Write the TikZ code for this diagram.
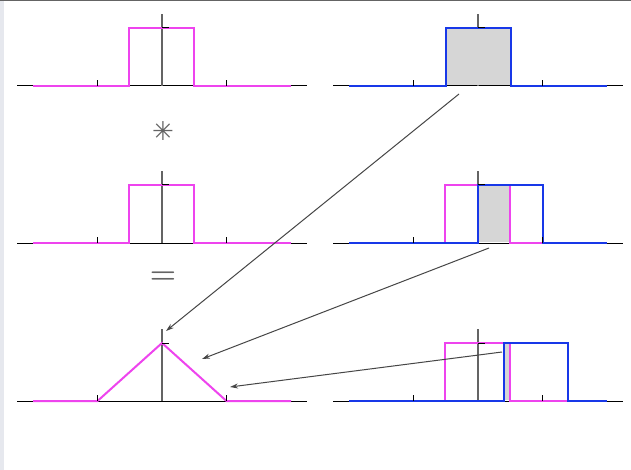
\documentclass[tikz,border=0pt]{standalone}
\usepackage{fontspec}
\newfontfamily\dejavu{DejaVu Sans}
\usetikzlibrary{arrows.meta}
\definecolor{mag}{RGB}{238,68,238}
\definecolor{blu}{RGB}{24,56,232}
\definecolor{greyfill}{RGB}{214,214,214}
\definecolor{arr}{RGB}{70,70,70}
\definecolor{vax}{RGB}{100,100,100}
\definecolor{strip}{RGB}{230,232,238}
\begin{document}
\begin{tikzpicture}[x=1pt,y=-1pt,
  haxis/.style={line width=1pt, black},
  vaxis/.style={line width=1.3pt, vax},
  tickmark/.style={line width=1pt, black},
  magcurve/.style={line width=2pt, mag},
  blucurve/.style={line width=2pt, blu},
  conn/.style={line width=1pt, arr, -{Stealth[length=8pt,width=5pt]}},
  sym/.style={text=vax, inner sep=0pt}]
\useasboundingbox (0,0) rectangle (631,470);
\fill[white] (0,0) rectangle (631,470);
\fill[strip] (0,0) rectangle (4,470);
\fill[vax] (0,0) rectangle (631,1.5);

% ---- left column ----
\begin{scope}[shift={(162,86)}]
  \draw[haxis] (-145,0) -- (145,0);
  \draw[vaxis] (0,0) -- (0,-72);
  \draw[magcurve] (-129,0) -- (-33,0) -- (-33,-58) -- (32,-58) -- (32,0) -- (129,0);
  \draw[tickmark] (-64.5,0) -- (-64.5,-6) (64.5,0) -- (64.5,-6) (0,-58) -- (7,-58);
\end{scope}
\begin{scope}[shift={(162,243)}]
  \draw[haxis] (-145,0) -- (145,0);
  \draw[vaxis] (0,0) -- (0,-72);
  \draw[magcurve] (-129,0) -- (-33,0) -- (-33,-58) -- (32,-58) -- (32,0) -- (129,0);
  \draw[tickmark] (-64.5,0) -- (-64.5,-6) (64.5,0) -- (64.5,-6) (0,-58) -- (7,-58);
\end{scope}
\begin{scope}[shift={(162,401)}]
  \draw[haxis] (-145,0) -- (145,0);
  \draw[vaxis] (0,0) -- (0,-72);
  \draw[magcurve] (-129,0) -- (-64.5,0) -- (0,-58) -- (64.5,0) -- (129,0);
  \draw[tickmark] (-64.5,0) -- (-64.5,-6) (64.5,0) -- (64.5,-6) (0,-58) -- (7,-58);
\end{scope}

% ---- right column ----
\begin{scope}[shift={(478,86)}]
  \draw[haxis] (-145,0) -- (145,0);
  \draw[vaxis] (0,0) -- (0,-72);
  \fill[greyfill] (-32,-58) rectangle (33,-1);
  \draw[blucurve] (-129,0) -- (-32,0) -- (-32,-58) -- (33,-58) -- (33,0) -- (129,0);
  \draw[tickmark] (-64.5,0) -- (-64.5,-6) (64.5,0) -- (64.5,-6) (0,-58) -- (7,-58);
\end{scope}
\begin{scope}[shift={(478,243)}]
  \draw[haxis] (-145,0) -- (145,0);
  \draw[vaxis] (0,0) -- (0,-72);
  \fill[greyfill] (0,-58) rectangle (32,-1);
  \draw[magcurve] (-129,0) -- (-33,0) -- (-33,-58) -- (32,-58) -- (32,0) -- (129,0);
  \draw[blucurve] (-129,0) -- (0,0) -- (0,-58) -- (65,-58) -- (65,0) -- (129,0);
  \draw[tickmark] (-64.5,0) -- (-64.5,-6) (64.5,0) -- (64.5,-6) (0,-58) -- (7,-58);
\end{scope}
\begin{scope}[shift={(478,401)}]
  \draw[haxis] (-145,0) -- (145,0);
  \draw[vaxis] (0,0) -- (0,-72);
  \fill[greyfill] (25.8,-58) rectangle (32,-1);
  \draw[magcurve] (-129,0) -- (-33,0) -- (-33,-58) -- (32,-58) -- (32,0) -- (129,0);
  \draw[blucurve] (-129,0) -- (25.8,0) -- (25.8,-58) -- (90,-58) -- (90,0) -- (129,0);
  \draw[tickmark] (-64.5,0) -- (-64.5,-6) (64.5,0) -- (64.5,-6) (0,-58) -- (7,-58);
\end{scope}

% ---- operators ----
\node[sym, font=\dejavu\fontsize{26}{26}\selectfont] (conv) at (163,131) {✳};
\node[sym, font=\bfseries\fontsize{30}{30}\selectfont] (eq) at (163,278) {=};

% ---- connectors ----
\coordinate (a1s) at (459,94);
\coordinate (a1e) at (166,331);
\coordinate (a2s) at (489,248);
\coordinate (a2e) at (202,359);
\coordinate (a3s) at (502,352);
\coordinate (a3e) at (230,387);
\draw[conn] (a1s) -- (a1e);
\draw[conn] (a2s) -- (a2e);
\draw[conn] (a3s) -- (a3e);
\end{tikzpicture}
\end{document}
